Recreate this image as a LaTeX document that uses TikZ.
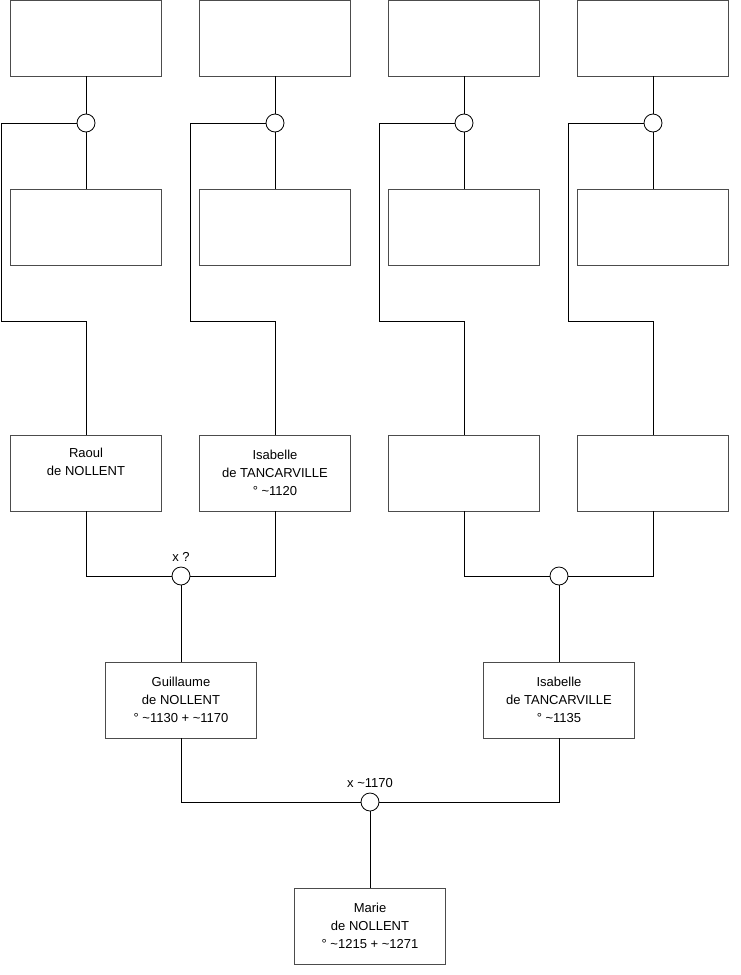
\documentclass[tikz,border=0pt]{standalone}
\usepackage{fontspec}
\setmainfont{Liberation Sans}
\usetikzlibrary{positioning}

\begin{document}
\begin{tikzpicture}[x=1pt, y=-1pt, line width=0.8pt,
        every node/.style={font=\fontsize{13}{18}\selectfont},
        person/.style={draw=black!70, fill=white, minimum width=151pt, minimum height=76pt, align=center, inner sep=0pt},
        union/.style={draw, circle, fill=white, minimum size=18pt, inner sep=0pt}]
        \useasboundingbox (0,0) rectangle (740,975);
        % generation 4
        \node[person] (A1) at (86,38) {};
        \node[person] (A2) at (275,38) {};
        \node[person] (A3) at (464,38) {};
        \node[person] (A4) at (653,38) {};
        \node[person] (B1) at (86,227) {};
        \node[person] (B2) at (275,227) {};
        \node[person] (B3) at (464,227) {};
        \node[person] (B4) at (653,227) {};
        \node[union] (UA1) at (86,123) {};
        \node[union] (UA2) at (275,123) {};
        \node[union] (UA3) at (464,123) {};
        \node[union] (UA4) at (653,123) {};
        % generation 3
        \node[person] (raoul) at (86,473) {Raoul\\de NOLLENT\\\strut};
        \node[person] (isabelleT) at (275,473) {Isabelle\\de TANCARVILLE\\° \textasciitilde1120};
        \node[person] (C3) at (464,473) {};
        \node[person] (C4) at (653,473) {};
        \node[union] (UC1) at (181,576) {};
        \node[union] (UC2) at (559,576) {};
        \node[above=1pt of UC1] (xUC1) {x ?};
        % generation 2
        \node[person] (guillaume) at (181,700) {Guillaume\\de NOLLENT\\° \textasciitilde1130 + \textasciitilde1170};
        \node[person] (isabelle) at (559,700) {Isabelle\\de TANCARVILLE\\° \textasciitilde1135};
        \node[union] (UG) at (370,802) {};
        \node[above=1pt of UG] (xUG) {x \textasciitilde1170};
        % generation 1
        \node[person] (marie) at (370,926) {Marie\\de NOLLENT\\° \textasciitilde1215 + \textasciitilde1271};
        % bends of the child lines
        \coordinate (k1) at (1,321);
        \coordinate (k2) at (190,321);
        \coordinate (k3) at (379,321);
        \coordinate (k4) at (568,321);
        \draw (A1) -- (UA1) -- (B1);
        \draw (A2) -- (UA2) -- (B2);
        \draw (A3) -- (UA3) -- (B3);
        \draw (A4) -- (UA4) -- (B4);
        \draw (UA1.west) -| (k1) -| (raoul.north);
        \draw (UA2.west) -| (k2) -| (isabelleT.north);
        \draw (UA3.west) -| (k3) -| (C3.north);
        \draw (UA4.west) -| (k4) -| (C4.north);
        \draw (raoul.south) |- (UC1.west);
        \draw (isabelleT.south) |- (UC1.east);
        \draw (C3.south) |- (UC2.west);
        \draw (C4.south) |- (UC2.east);
        \draw (UC1.south) -- (guillaume.north);
        \draw (UC2.south) -- (isabelle.north);
        \draw (guillaume.south) |- (UG.west);
        \draw (isabelle.south) |- (UG.east);
        \draw (UG.south) -- (marie.north);
    \end{tikzpicture}
\end{document}
